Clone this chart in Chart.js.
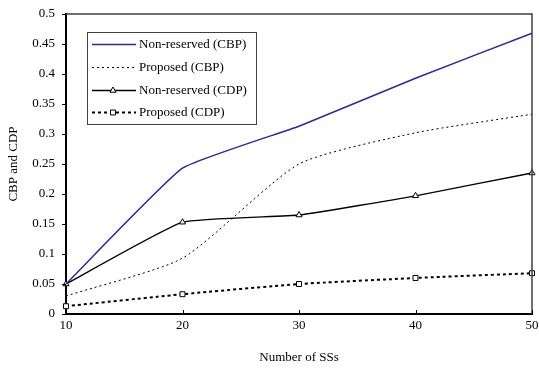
<!DOCTYPE html>
<html>
<head>
<meta charset="utf-8">
<script src="https://cdn.jsdelivr.net/npm/chart.js@4.4.0/dist/chart.umd.min.js"></script>
<style>
html,body{margin:0;padding:0;background:#fff;}
#wrap{width:539px;height:368px;}
</style>
</head>
<body>
<div id="wrap"><canvas id="c" width="539" height="368"></canvas></div>
<script>
const ssCounts = [10, 20, 30, 40, 50];
const nonReservedCBP = [0.05, 0.243, 0.313, 0.393, 0.468];
const proposedCBP = [0.03, 0.093, 0.25, 0.302, 0.333];
const nonReservedCDP = [0.05, 0.153, 0.165, 0.197, 0.235];
const proposedCDP = [0.013, 0.033, 0.05, 0.06, 0.068];
const seriesNames = ['Non-reserved (CBP)', 'Proposed (CBP)', 'Non-reserved (CDP)', 'Proposed (CDP)'];

const FONT = {family: '"Liberation Serif", "Times New Roman", serif', size: 13};

const decor = {
  id: 'decor',
  afterDraw(chart) {
    const ctx = chart.ctx;
    const a = chart.chartArea;
    const xs = chart.scales.x, ys = chart.scales.y;
    ctx.save();
    ctx.strokeStyle = '#404040';
    ctx.lineWidth = 1.5;
    ctx.beginPath();
    ctx.moveTo(a.left, a.top);
    ctx.lineTo(a.right, a.top);
    ctx.lineTo(a.right, a.bottom);
    ctx.stroke();
    ctx.strokeStyle = '#000';
    ctx.lineWidth = 1;
    xs.ticks.forEach((t, i) => {
      const px = Math.round(xs.getPixelForTick(i)) + 0.5;
      ctx.beginPath();
      ctx.moveTo(px, a.bottom);
      ctx.lineTo(px, a.bottom - 4);
      ctx.stroke();
    });
    ys.ticks.forEach((t, i) => {
      const py = Math.round(ys.getPixelForTick(i)) + 0.5;
      ctx.beginPath();
      ctx.moveTo(a.left - 4, py);
      ctx.lineTo(a.left, py);
      ctx.stroke();
    });
    const bx = 87, by = 32, bw = 169, bh = 92;
    ctx.fillStyle = '#fff';
    ctx.fillRect(bx, by, bw, bh);
    ctx.strokeStyle = '#404040';
    ctx.lineWidth = 1;
    ctx.strokeRect(bx + 0.5, by + 0.5, bw, bh);
    const rows = [44, 67, 90, 112];
    chart.data.datasets.forEach((ds, i) => {
      const y = rows[i] + 0.5;
      ctx.save();
      ctx.strokeStyle = ds.borderColor;
      ctx.lineWidth = ds.borderWidth;
      ctx.setLineDash(ds.borderDash || []);
      ctx.beginPath();
      ctx.moveTo(92, y);
      ctx.lineTo(136, y);
      ctx.stroke();
      ctx.restore();
      if (ds.pointRadius > 0) {
        ctx.save();
        ctx.fillStyle = ds.pointBackgroundColor;
        ctx.strokeStyle = ds.pointBorderColor;
        ctx.lineWidth = ds.pointBorderWidth;
        Chart.helpers.drawPoint(ctx, {pointStyle: ds.pointStyle, radius: ds.pointRadius, rotation: 0, borderWidth: ds.pointBorderWidth}, 113, y);
        ctx.restore();
      }
      ctx.fillStyle = '#000';
      ctx.font = '13px "Liberation Serif", serif';
      ctx.textBaseline = 'middle';
      ctx.textAlign = 'left';
      ctx.fillText(ds.label, 139, rows[i] + 0.5);
    });
    ctx.restore();
  }
};

new Chart(document.getElementById('c'), {
  type: 'line',
  data: {
    labels: ssCounts,
    datasets: [
      {label: seriesNames[0], data: nonReservedCBP, borderColor: '#2a2a9c', borderWidth: 1.5, pointRadius: 0, tension: 0.12, clip: false, fill: false},
      {label: seriesNames[1], data: proposedCBP, borderColor: '#000', borderWidth: 1, borderDash: [2, 3], pointRadius: 0, tension: 0.2, clip: false, fill: false},
      {label: seriesNames[2], data: nonReservedCDP, borderColor: '#000', borderWidth: 1.3, pointStyle: 'triangle', pointRadius: 3.5, pointBorderWidth: 1, pointBackgroundColor: '#fff', pointBorderColor: '#000', tension: 0.12, clip: false, fill: false},
      {label: seriesNames[3], data: proposedCDP, borderColor: '#000', borderWidth: 2, borderDash: [3, 3], pointStyle: 'rect', pointRadius: 3.5, pointBorderWidth: 1, pointBackgroundColor: '#fff', pointBorderColor: '#000', tension: 0.15, clip: false, fill: false}
    ]
  },
  options: {
    responsive: false,
    animation: false,
    devicePixelRatio: 1,
    layout: {padding: {top: 14, right: 7, left: 0, bottom: 0}},
    plugins: {legend: {display: false}, tooltip: {enabled: false}},
    scales: {
      x: {
        type: 'category',
        offset: false,
        grid: {display: false, drawTicks: false},
        border: {display: true, color: '#000', width: 2},
        ticks: {color: '#000', font: FONT, padding: 4, maxRotation: 0, autoSkip: false},
        title: {display: true, text: 'Number of SSs', color: '#000', font: FONT, padding: {top: 0, bottom: 3}},
        afterFit(s) { s.height = 54; s.paddingRight = 0; s.paddingLeft = 0; }
      },
      y: {
        min: 0, max: 0.5,
        grid: {display: false, drawTicks: false},
        border: {display: true, color: '#000', width: 2},
        ticks: {stepSize: 0.05, color: '#000', font: FONT, padding: 11, callback: v => String(+(+v).toFixed(2))},
        title: {display: true, text: 'CBP and CDP', color: '#000', font: FONT, padding: {top: 6, bottom: 0}},
        afterFit(s) { s.width = 66; s.paddingTop = 0; s.paddingBottom = 0; }
      }
    }
  },
  plugins: [decor]
});
</script>
</body>
</html>
